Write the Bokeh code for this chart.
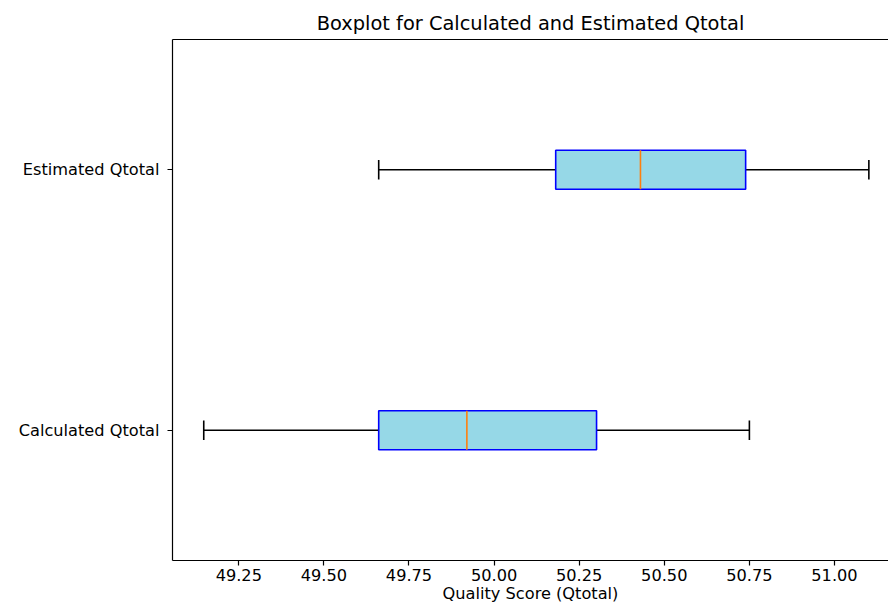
from bokeh.plotting import figure
from bokeh.models import Range1d, FixedTicker, LinearAxis, NumeralTickFormatter
from bokeh.embed import file_html
from bokeh.resources import INLINE

# ---- data ----
categories = ["Calculated Qtotal", "Estimated Qtotal"]
lower_whisker = [49.147, 49.661]
q1 = [49.661, 50.181]
median = [49.920, 50.430]
q3 = [50.301, 50.739]
upper_whisker = [50.750, 51.101]
x_ticks = [49.25, 49.50, 49.75, 50.00, 50.25, 50.50, 50.75, 51.00]

positions = [i + 1 for i in range(len(categories))]
box_h = 0.15
cap_h = box_h / 2

FONT = "DejaVu Sans"

p = figure(width=888, height=606, output_backend="svg", toolbar_location=None,
           x_range=Range1d(49.0552, 51.1587), y_range=Range1d(0.5, 2.5),
           title="Boxplot for Calculated and Estimated Qtotal",
           min_border_left=172, min_border_right=0, min_border_top=39, min_border_bottom=46)

p.background_fill_color = "white"
p.border_fill_color = "white"
p.outline_line_color = None
p.grid.visible = False

# title
p.title.text_font = FONT
p.title.text_font_size = "19.4px"
p.title.text_font_style = "normal"
p.title.align = "center"
p.title.text_color = "black"

# whiskers
p.segment(x0=lower_whisker, y0=positions, x1=q1, y1=positions, line_color="black", line_width=1.6)
p.segment(x0=q3, y0=positions, x1=upper_whisker, y1=positions, line_color="black", line_width=1.6)
# caps
p.segment(x0=lower_whisker, y0=[y - cap_h / 2 for y in positions], x1=lower_whisker,
          y1=[y + cap_h / 2 for y in positions], line_color="black", line_width=1.6)
p.segment(x0=upper_whisker, y0=[y - cap_h / 2 for y in positions], x1=upper_whisker,
          y1=[y + cap_h / 2 for y in positions], line_color="black", line_width=1.6)
# boxes
p.hbar(y=positions, left=q1, right=q3, height=box_h, fill_color="#96d8e7",
       line_color="#0000ff", line_width=1.6)
# medians
p.segment(x0=median, y0=[y - box_h / 2 for y in positions], x1=median,
          y1=[y + box_h / 2 for y in positions], line_color="#ff7f0e", line_width=1.6)

# x axis
xa = p.xaxis[0]
xa.ticker = FixedTicker(ticks=x_ticks)
xa.formatter = NumeralTickFormatter(format="0.00")
xa.axis_label = "Quality Score (Qtotal)"
xa.minor_tick_line_color = None
xa.major_tick_in = 0
xa.major_tick_out = 5
xa.major_label_standoff = 3
xa.axis_label_standoff = 0

# y axis
ya = p.yaxis[0]
ya.ticker = FixedTicker(ticks=positions)
ya.major_label_overrides = {pos: cat for pos, cat in zip(positions, categories)}
ya.minor_tick_line_color = None
ya.major_tick_in = 0
ya.major_tick_out = 5
ya.major_label_standoff = 8

for ax in (xa, ya):
    ax.axis_line_color = "black"
    ax.axis_line_width = 1.2
    ax.major_tick_line_color = "black"
    ax.major_tick_line_width = 1.2
    ax.major_label_text_font = FONT
    ax.major_label_text_font_size = "16.2px"
    ax.major_label_text_color = "black"
    ax.axis_label_text_font = FONT
    ax.axis_label_text_font_size = "16.2px"
    ax.axis_label_text_font_style = "normal"
    ax.axis_label_text_color = "black"

# top frame line
top = LinearAxis(ticker=FixedTicker(ticks=[]), axis_line_color="black", axis_line_width=1.2,
                 major_tick_line_color=None, minor_tick_line_color=None,
                 major_label_text_font_size="0px", major_label_standoff=0,
                 major_tick_out=0, major_tick_in=0)
p.add_layout(top, "above")

open("out.html", "w").write(file_html(p, INLINE))
